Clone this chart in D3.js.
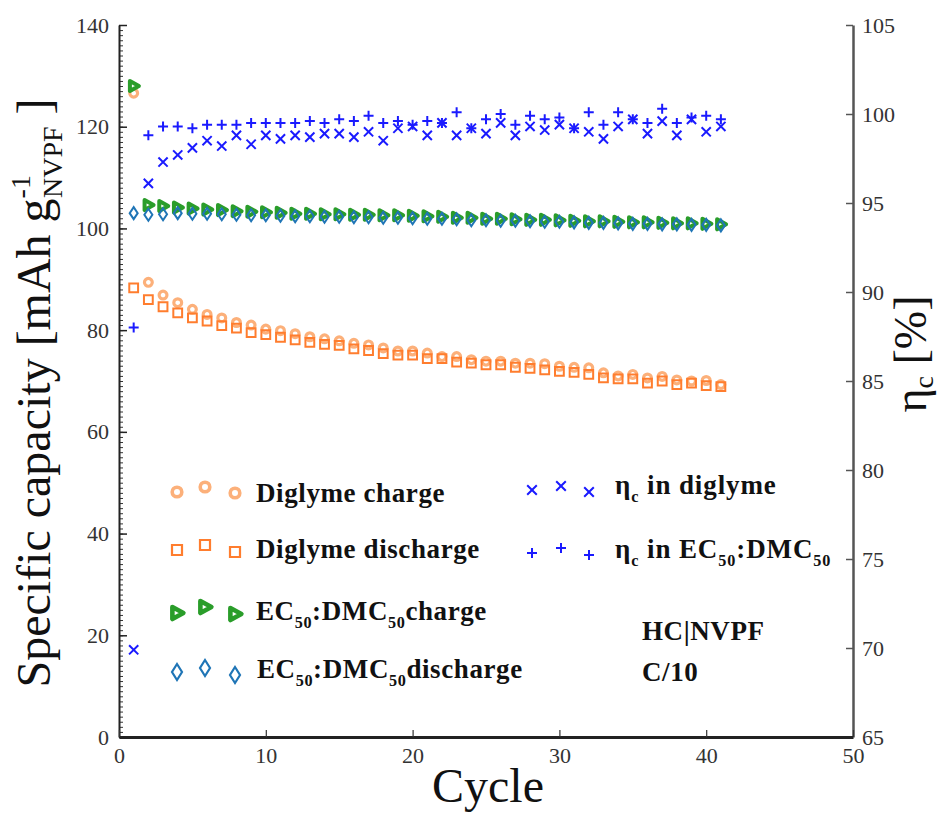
<!DOCTYPE html>
<html>
<head>
<meta charset="utf-8">
<script src="https://cdn.jsdelivr.net/npm/d3@7"></script>
<style>
  html, body { margin: 0; padding: 0; background: #fff; }
  svg { display: block; font-family: "Liberation Serif", "Times New Roman", serif; }
</style>
</head>
<body>
<svg id="chart" width="946" height="816"></svg>
<script>
// Cycle numbers
const cycles = [1,2,3,4,5,6,7,8,9,10,11,12,13,14,15,16,17,18,19,20,21,22,23,24,25,26,27,28,29,30,31,32,33,34,35,36,37,38,39,40,41];

// Specific capacity, mAh g-1 (NVPF)
const diglymeCharge = [126.6,89.4,86.9,85.4,84.1,83.1,82.4,81.5,81.0,80.2,79.9,79.3,78.7,78.3,77.9,77.4,77.1,76.5,75.9,75.9,75.5,74.8,74.8,74.2,73.9,73.9,73.5,73.5,73.4,72.9,72.7,72.6,71.6,71.0,71.3,70.6,70.9,70.2,70.0,70.1,69.3];
const diglymeDischarge = [88.3,86.0,84.6,83.4,82.4,81.8,80.9,80.4,79.5,79.1,78.6,78.1,77.6,77.2,77.0,76.3,76.0,75.4,75.1,75.1,74.4,74.4,73.7,73.5,73.2,73.2,72.7,72.5,72.2,71.9,71.7,71.3,70.6,70.4,70.4,69.6,70.0,69.3,69.6,69.1,68.9];
const ecCharge = [128.0,104.6,104.4,104.1,103.9,103.7,103.6,103.4,103.3,103.2,103.1,102.9,102.9,102.8,102.8,102.7,102.7,102.6,102.6,102.5,102.4,102.3,102.1,102.1,101.9,101.9,101.8,101.7,101.7,101.6,101.5,101.4,101.4,101.3,101.2,101.2,101.1,101.0,101.0,100.9,100.8];
const ecDischarge = [103.0,102.7,102.8,103.0,102.9,102.9,102.8,102.7,102.6,102.6,102.5,102.4,102.4,102.3,102.3,102.2,102.2,102.1,102.1,102.0,101.9,101.9,101.8,101.6,101.6,101.5,101.5,101.4,101.3,101.3,101.2,101.1,101.1,101.0,100.9,100.9,100.8,100.8,100.7,100.7,100.6];

// Coulombic efficiency, %
const etaDiglyme = [69.9,96.1,97.3,97.7,98.1,98.5,98.2,98.8,98.3,98.8,98.6,98.8,98.7,98.9,98.9,98.7,99.0,98.5,99.2,99.3,98.8,99.5,98.8,99.2,98.9,99.5,98.8,99.3,99.1,99.4,99.2,99.0,98.6,99.3,99.7,98.9,99.6,98.8,99.7,99.0,99.3];
const etaEc = [88.0,98.8,99.3,99.3,99.2,99.4,99.4,99.4,99.5,99.5,99.5,99.5,99.6,99.5,99.7,99.6,99.9,99.5,99.6,99.4,99.6,99.5,100.1,99.2,99.7,100.0,99.4,99.9,99.7,99.8,99.2,100.1,99.4,100.1,99.7,99.5,100.3,99.5,99.8,99.9,99.7];

// Axis ticks
const xTicks = [0,10,20,30,40,50];
const leftTicks = [0,20,40,60,80,100,120,140];
const rightTicks = [65,70,75,80,85,90,95,100,105];

const svg = d3.select("#chart");
const W = 946, H = 816;
svg.append("rect").attr("width", W).attr("height", H).attr("fill", "#fff");

const x = d3.scaleLinear().domain([0, 50]).range([119, 853]);
const yL = d3.scaleLinear().domain([0, 140]).range([737, 25]);
const yR = d3.scaleLinear().domain([65, 105]).range([737, 25]);

const C = {
  circ: "#fcb07a",
  sq: "#ff7d2e",
  tri: "#2a9d2a",
  dia: "#1f75b6",
  blue: "#1a1aff"
};

// ---- symbol path builders ----
const sym = {
  circle: r => d3.symbol().type(d3.symbolCircle).size(Math.PI * r * r)(),
  square: s => `M${-s},${-s}H${s}V${s}H${-s}Z`,
  triRight: (w, h) => `M${-w * 0.42},${-h / 2}L${w * 0.58},0L${-w * 0.42},${h / 2}Z`,
  diamond: (w, h) => `M0,${-h / 2}L${w / 2},0L0,${h / 2}L${-w / 2},0Z`,
  cross: s => `M${-s},${-s}L${s},${s}M${-s},${s}L${s},${-s}`,
  plus: s => `M${-s},0H${s}M0,${-s}V${s}`
};

// ---- axes ----
const axG = svg.append("g");

// left minor ticks
axG.append("g")
  .attr("transform", `translate(${x(0)},0)`)
  .call(d3.axisLeft(yL).tickValues(d3.range(0, 141, 1)).tickSize(-4).tickSizeOuter(0).tickFormat(""))
  .call(g => g.select(".domain").remove())
  .call(g => g.selectAll("line").attr("stroke", "#333").attr("stroke-width", 1));

// left major axis
axG.append("g")
  .attr("transform", `translate(${x(0)},0)`)
  .call(d3.axisLeft(yL).tickValues(leftTicks).tickSize(-8).tickSizeOuter(0).tickPadding(10))
  .call(g => g.select(".domain").attr("stroke", "#222").attr("stroke-width", 2))
  .call(g => g.selectAll("line").attr("stroke", "#222").attr("stroke-width", 1.5))
  .call(g => g.selectAll("text").attr("font-size", 22).attr("fill", "#333")
    .attr("font-family", "Liberation Serif, serif"));

// right axis
axG.append("g")
  .attr("transform", `translate(${x(50)},0)`)
  .call(d3.axisRight(yR).tickValues(rightTicks).tickSize(-7).tickSizeOuter(0).tickPadding(9))
  .call(g => g.select(".domain").attr("stroke", "#555").attr("stroke-width", 2.5))
  .call(g => g.selectAll("line").attr("stroke", "#555").attr("stroke-width", 1.5))
  .call(g => g.selectAll("text").attr("font-size", 22).attr("fill", "#333")
    .attr("font-family", "Liberation Serif, serif"));

// bottom axis
axG.append("g")
  .attr("transform", `translate(0,${yL(0)})`)
  .call(d3.axisBottom(x).tickValues(xTicks).tickSize(-7).tickSizeOuter(0).tickPadding(10))
  .call(g => g.select(".domain").attr("stroke", "#222").attr("stroke-width", 3))
  .call(g => g.selectAll("line").attr("stroke", "#333").attr("stroke-width", 1.2))
  .call(g => g.selectAll("text").attr("font-size", 22).attr("fill", "#333")
    .attr("font-family", "Liberation Serif, serif"));

// ---- data marks ----
const plot = svg.append("g");

function drawSeries(values, scale, path, style) {
  plot.append("g").selectAll("path")
    .data(cycles.map((c, i) => [c, values[i]]))
    .join("path")
    .attr("transform", d => `translate(${x(d[0])},${scale(d[1])})`)
    .attr("d", path)
    .attr("fill", style.fill || "none")
    .attr("stroke", style.stroke)
    .attr("stroke-width", style.sw)
    .attr("stroke-linejoin", style.join || "miter");
}

drawSeries(diglymeCharge, yL, sym.circle(3.9), { stroke: C.circ, sw: 3.2 });
drawSeries(diglymeDischarge, yL, sym.square(4.4), { stroke: C.sq, sw: 2 });
drawSeries(ecCharge, yL, sym.triRight(9, 10), { stroke: C.tri, sw: 4, fill: "#fff", join: "round" });
drawSeries(ecDischarge, yL, sym.diamond(8, 12), { stroke: C.dia, sw: 2 });
drawSeries(etaDiglyme, yR, sym.cross(4.6), { stroke: C.blue, sw: 2 });
drawSeries(etaEc, yR, sym.plus(5), { stroke: C.blue, sw: 2 });

// ---- legend ----
const leg = svg.append("g");

function legendMarkers(pts, path, style) {
  leg.append("g").selectAll("path").data(pts).join("path")
    .attr("transform", d => `translate(${d[0]},${d[1]})`)
    .attr("d", path)
    .attr("fill", style.fill || "none")
    .attr("stroke", style.stroke)
    .attr("stroke-width", style.sw)
    .attr("stroke-linejoin", style.join || "miter");
}

legendMarkers([[177, 492], [205, 487], [235, 493]], sym.circle(4.8), { stroke: C.circ, sw: 3.6 });
legendMarkers([[177, 550], [205, 545], [235, 552]], sym.square(5), { stroke: C.sq, sw: 2.2 });
legendMarkers([[177, 613], [205, 607], [235, 614]], sym.triRight(11, 12), { stroke: C.tri, sw: 4.6, fill: "#fff", join: "round" });
legendMarkers([[177, 672], [205, 668], [235, 675]], sym.diamond(10, 16), { stroke: C.dia, sw: 2.2 });
legendMarkers([[532, 490], [561, 486], [589, 492]], sym.cross(4.8), { stroke: C.blue, sw: 2 });
legendMarkers([[532, 553], [561, 548], [589, 555]], sym.plus(5), { stroke: C.blue, sw: 2 });

function richText(g, xPos, yPos, parts, opts) {
  const t = g.append("text")
    .attr("x", xPos).attr("y", yPos)
    .attr("font-size", opts.size)
    .attr("font-weight", opts.weight || "normal")
    .attr("letter-spacing", opts.ls || 0)
    .attr("fill", "#111");
  let shift = 0;
  parts.forEach(p => {
    const s = t.append("tspan").text(p.t);
    const target = p.sub ? opts.size * 0.3 : (p.sup ? -opts.size * 0.38 : 0);
    if (target !== shift) { s.attr("dy", target - shift); shift = target; }
    if (p.sub || p.sup) s.attr("font-size", opts.size * 0.6);
    if (p.dx) s.attr("dx", p.dx);
  });
  return t;
}

const legOpts = { size: 27, weight: "bold", ls: 0.6 };
const legOptsR = { size: 27, weight: "bold", ls: 0.9 };
richText(leg, 256, 502, [{ t: "Diglyme charge" }], legOpts);
richText(leg, 256, 558, [{ t: "Diglyme discharge" }], legOpts);
richText(leg, 256, 620, [{ t: "EC" }, { t: "50", sub: true }, { t: ":DMC" }, { t: "50", sub: true }, { t: "charge" }], legOpts);
richText(leg, 257, 678, [{ t: "EC" }, { t: "50", sub: true }, { t: ":DMC" }, { t: "50", sub: true }, { t: "discharge" }], legOpts);
richText(leg, 615, 494, [{ t: "η" }, { t: "c", sub: true }, { t: " in diglyme" }], legOptsR);
richText(leg, 615, 558, [{ t: "η" }, { t: "c", sub: true }, { t: " in EC" }, { t: "50", sub: true }, { t: ":DMC" }, { t: "50", sub: true }], legOptsR);
richText(leg, 642, 640, [{ t: "HC|NVPF" }], legOpts);
richText(leg, 642, 681, [{ t: "C/10" }], legOpts);

// ---- axis titles ----
svg.append("text")
  .attr("x", 488).attr("y", 802)
  .attr("text-anchor", "middle")
  .attr("font-size", 48)
  .attr("fill", "#111")
  .text("Cycle");

const yTitle = svg.append("text")
  .attr("transform", "translate(50,393) rotate(-90)")
  .attr("text-anchor", "middle")
  .attr("font-size", 48)
  .attr("fill", "#111");
yTitle.append("tspan").text("Specific capacity [mAh g");
yTitle.append("tspan").text("-1").attr("font-size", 28).attr("dy", -20);
yTitle.append("tspan").text("NVPF").attr("font-size", 28).attr("dx", -23).attr("dy", 32);
yTitle.append("tspan").text(" ]").attr("dy", -12);

const rTitle = svg.append("text")
  .attr("transform", "translate(926,354) rotate(-90)")
  .attr("text-anchor", "middle")
  .attr("font-size", 46)
  .attr("fill", "#111");
rTitle.append("tspan").text("η");
rTitle.append("tspan").text("c").attr("font-size", 28).attr("dy", 7);
rTitle.append("tspan").text(" [%]").attr("dy", -7);
</script>
</body>
</html>
